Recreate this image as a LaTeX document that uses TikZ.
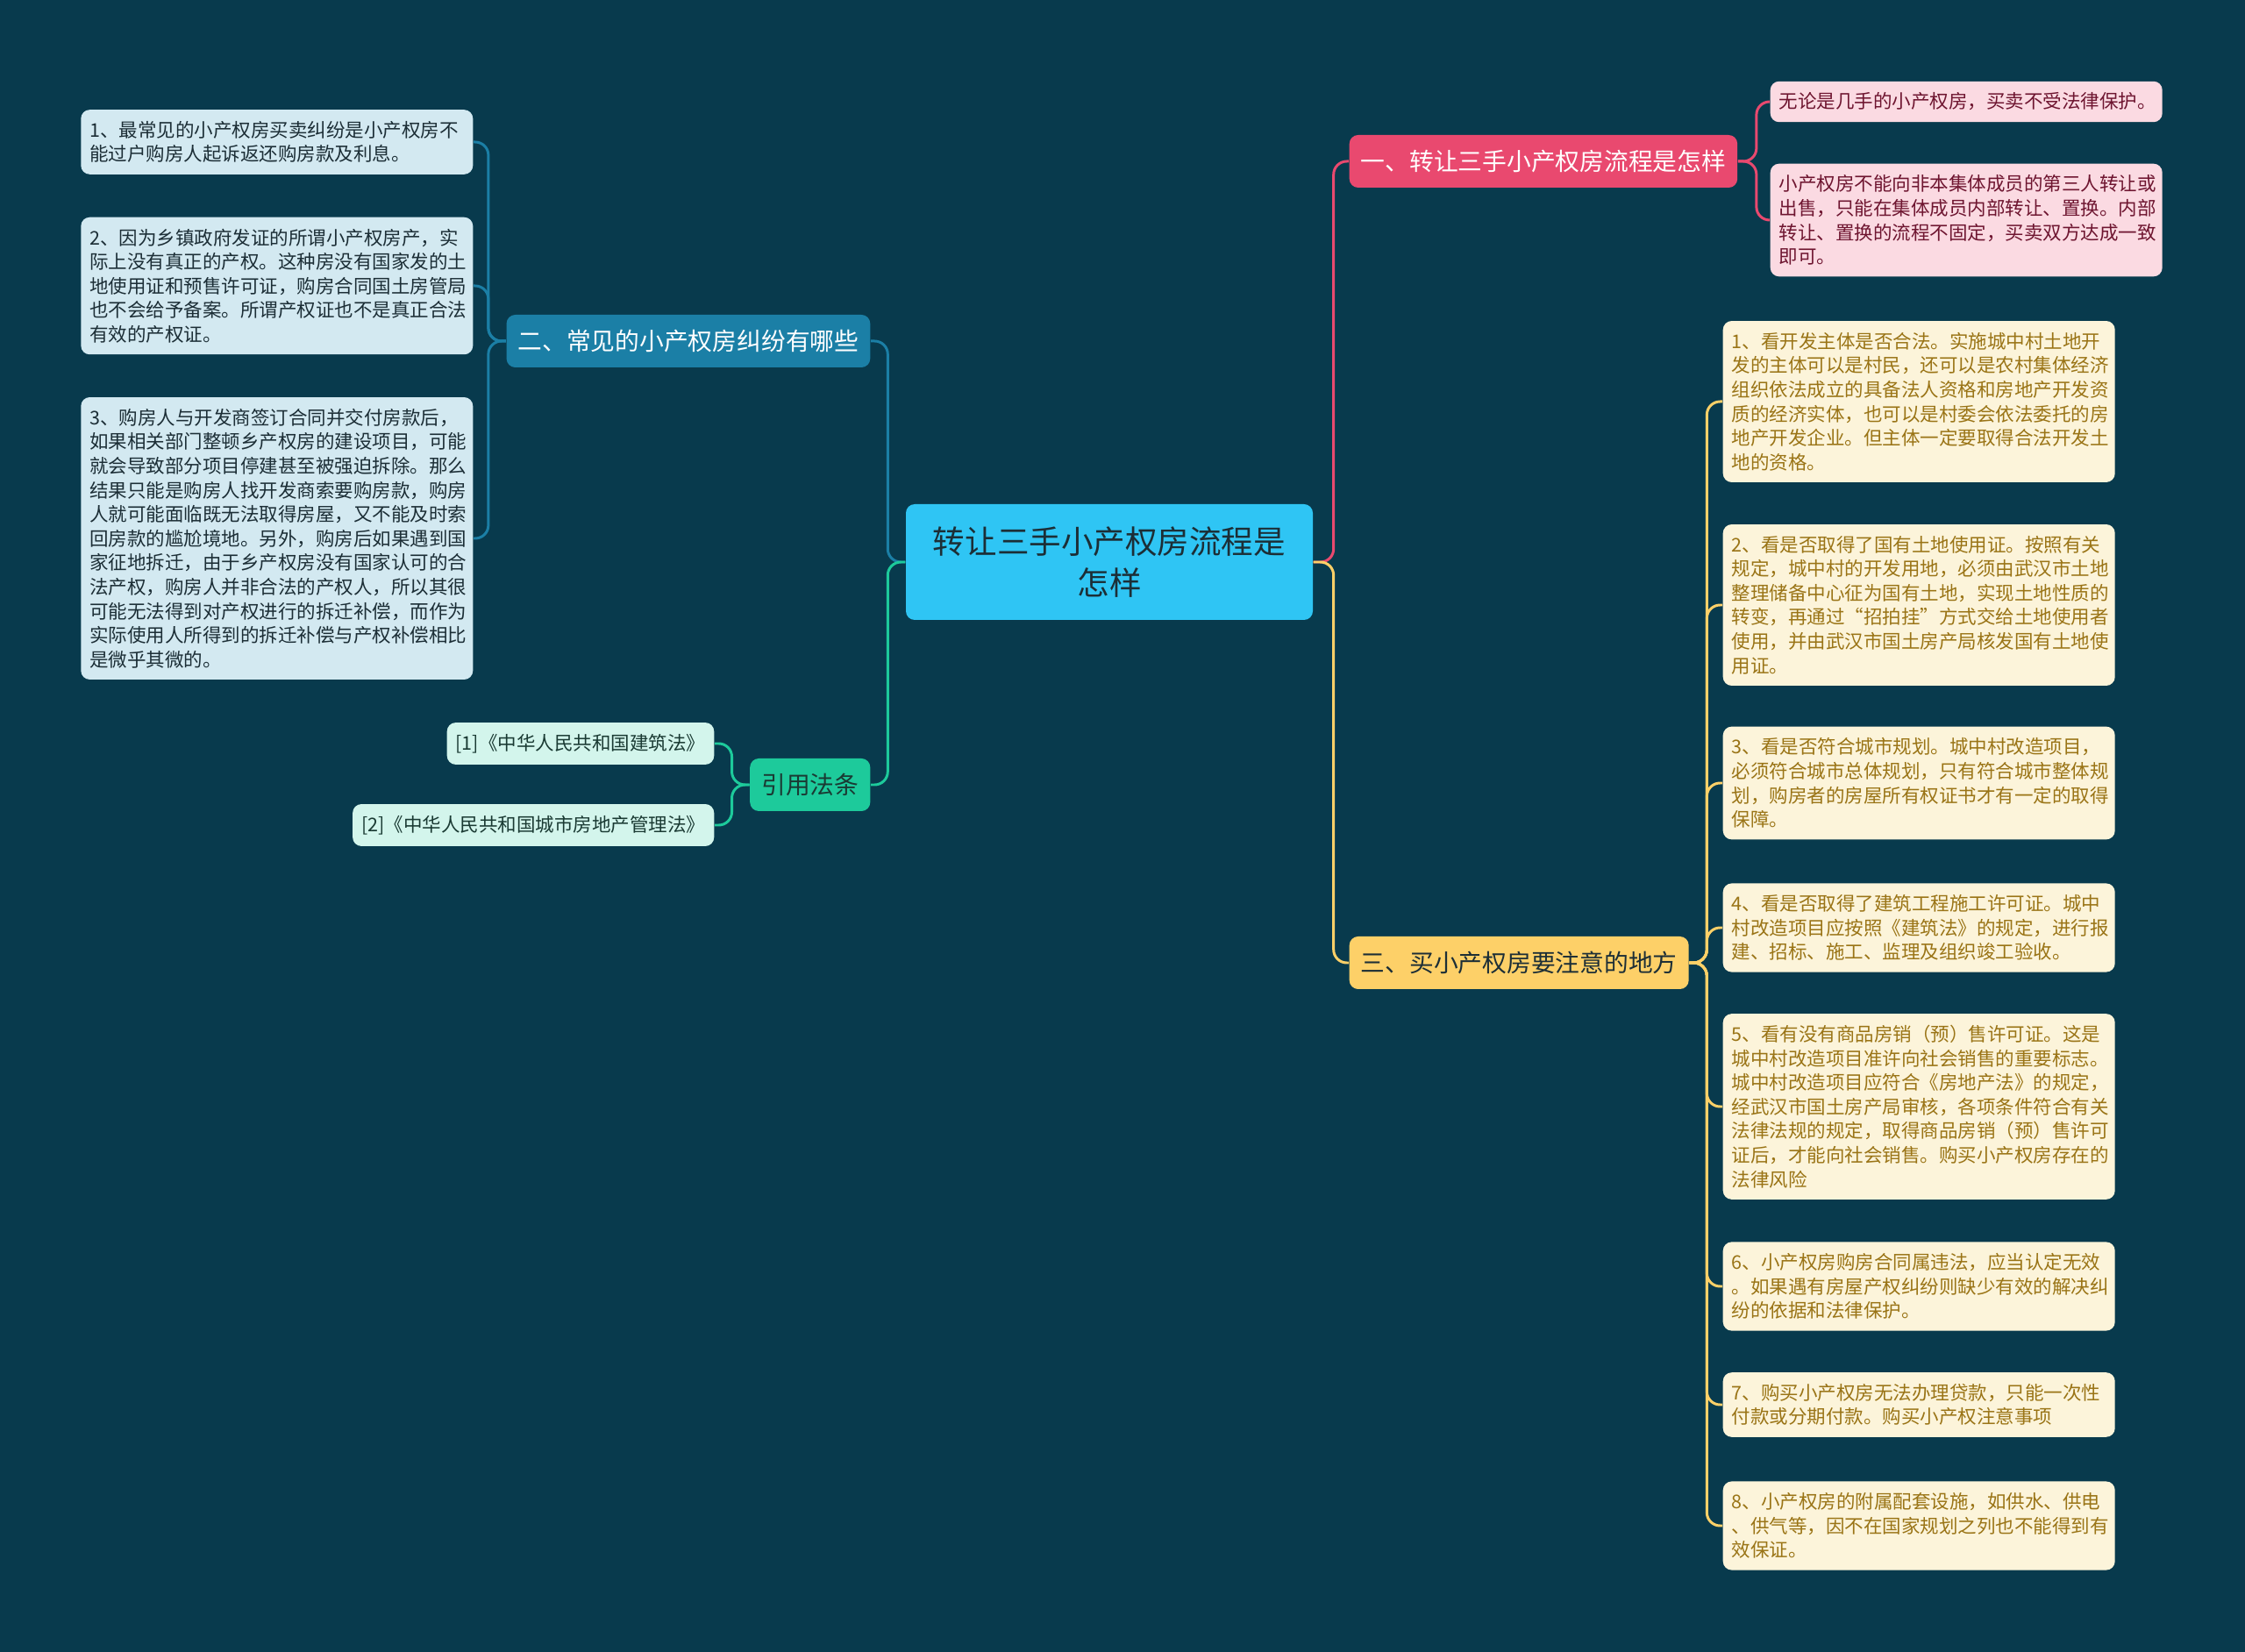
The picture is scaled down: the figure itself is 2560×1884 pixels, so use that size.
\documentclass[tikz,border=0pt]{standalone}
\usepackage{fontspec}
\setmainfont{Noto Sans CJK SC}
\usetikzlibrary{positioning}
\definecolor{bg}{HTML}{083A4D}
\definecolor{topicc}{HTML}{2FC5F4}
\definecolor{pinkc}{HTML}{E9496F}
\definecolor{bluec}{HTML}{1B7FA6}
\definecolor{greenc}{HTML}{1DCA9B}
\definecolor{yelc}{HTML}{FDD068}
\definecolor{pinkl}{HTML}{FBDAE2}
\definecolor{bluel}{HTML}{D3E9F1}
\definecolor{greenl}{HTML}{D3F5EC}
\definecolor{yell}{HTML}{FCF4DA}
\definecolor{pinkt}{HTML}{6E1530}
\definecolor{bluet}{HTML}{1C2E36}
\definecolor{greent}{HTML}{1A3A33}
\definecolor{yelt}{HTML}{9A7416}
\newcommand\smallcn{\fontsize{6.12pt}{7.85pt}\selectfont}
\newcommand\branchcn{\fontsize{7.9pt}{10pt}\selectfont}
\newcommand\topiccn{\fontsize{10.4pt}{13.4pt}\selectfont}

\begin{document}
\begin{tikzpicture}[x=0.1mm,y=-0.1mm,
  box/.style={rounded corners=1mm,inner xsep=1mm,inner ysep=1.3mm,font=\smallcn,align=left},
  leaf/.style={box,text width=42.7mm},
  br/.style={rounded corners=1mm,inner xsep=1.3mm,minimum height=6mm,font=\branchcn},
  ln/.style={line width=0.85pt,rounded corners=1.5mm}]
\fill[bg] (0,0) rectangle (2560,1884);
\useasboundingbox (0,0) rectangle (2560,1884);
% topic and branches
\node[fill=topicc,rounded corners=1mm,minimum width=46.4mm,minimum height=13.2mm,align=center,font=\topiccn,text=bluet] (c) at (1265,641) {转让三手小产权房流程是\\怎样};
\node[br,fill=pinkc,text=white,anchor=west] (b1) at (1538,184) {一、转让三手小产权房流程是怎样};
\node[br,fill=bluec,text=white,anchor=east] (b2) at (993,389) {二、常见的小产权房纠纷有哪些};
\node[br,fill=greenc,text=greent,anchor=east] (b3) at (993,895) {引用法条};
\node[br,fill=yelc,text=bluet,anchor=west] (b4) at (1538,1098) {三、买小产权房要注意的地方};
% pink leaves
\node[leaf,fill=pinkl,text=pinkt,anchor=west] (p1) at (2018,116) {无论是几手的小产权房，买卖不受法律保护。};
\node[leaf,fill=pinkl,text=pinkt,anchor=west] (p2) at (2018,251) {小产权房不能向非本集体成员的第三人转让或\\出售，只能在集体成员内部转让、置换。内部\\转让、置换的流程不固定，买卖双方达成一致\\即可。};
% blue leaves
\node[leaf,fill=bluel,text=bluet,anchor=east] (l1) at (540,162) {1、最常见的小产权房买卖纠纷是小产权房不\\能过户购房人起诉返还购房款及利息。};
\node[leaf,fill=bluel,text=bluet,anchor=east] (l2) at (540,326) {2、因为乡镇政府发证的所谓小产权房产，实\\际上没有真正的产权。这种房没有国家发的土\\地使用证和预售许可证，购房合同国土房管局\\也不会给予备案。所谓产权证也不是真正合法\\有效的产权证。};
\node[leaf,fill=bluel,text=bluet,anchor=east] (l3) at (540,614) {3、购房人与开发商签订合同并交付房款后，\\如果相关部门整顿乡产权房的建设项目，可能\\就会导致部分项目停建甚至被强迫拆除。那么\\结果只能是购房人找开发商索要购房款，购房\\人就可能面临既无法取得房屋，又不能及时索\\回房款的尴尬境地。另外，购房后如果遇到国\\家征地拆迁，由于乡产权房没有国家认可的合\\法产权，购房人并非合法的产权人，所以其很\\可能无法得到对产权进行的拆迁补偿，而作为\\实际使用人所得到的拆迁补偿与产权补偿相比\\是微乎其微的。};
% references
\node[box,fill=greenl,text=greent,anchor=east] (r1) at (815,848) {[1]《中华人民共和国建筑法》};
\node[box,fill=greenl,text=greent,anchor=east] (r2) at (815,941) {[2]《中华人民共和国城市房地产管理法》};
% yellow leaves
\node[leaf,fill=yell,text=yelt,anchor=west] (y1) at (1964,458) {1、看开发主体是否合法。实施城中村土地开\\发的主体可以是村民，还可以是农村集体经济\\组织依法成立的具备法人资格和房地产开发资\\质的经济实体，也可以是村委会依法委托的房\\地产开发企业。但主体一定要取得合法开发土\\地的资格。};
\node[leaf,fill=yell,text=yelt,anchor=west] (y2) at (1964,690) {2、看是否取得了国有土地使用证。按照有关\\规定，城中村的开发用地，必须由武汉市土地\\整理储备中心征为国有土地，实现土地性质的\\转变，再通过“招拍挂”方式交给土地使用者\\使用，并由武汉市国土房产局核发国有土地使\\用证。};
\node[leaf,fill=yell,text=yelt,anchor=west] (y3) at (1964,893) {3、看是否符合城市规划。城中村改造项目，\\必须符合城市总体规划，只有符合城市整体规\\划，购房者的房屋所有权证书才有一定的取得\\保障。};
\node[leaf,fill=yell,text=yelt,anchor=west] (y4) at (1964,1058) {4、看是否取得了建筑工程施工许可证。城中\\村改造项目应按照《建筑法》的规定，进行报\\建、招标、施工、监理及组织竣工验收。};
\node[leaf,fill=yell,text=yelt,anchor=west] (y5) at (1964,1262) {5、看有没有商品房销（预）售许可证。这是\\城中村改造项目准许向社会销售的重要标志。\\城中村改造项目应符合《房地产法》的规定，\\经武汉市国土房产局审核，各项条件符合有关\\法律法规的规定，取得商品房销（预）售许可\\证后，才能向社会销售。购买小产权房存在的\\法律风险};
\node[leaf,fill=yell,text=yelt,anchor=west] (y6) at (1964,1467) {6、小产权房购房合同属违法，应当认定无效\\。如果遇有房屋产权纠纷则缺少有效的解决纠\\纷的依据和法律保护。};
\node[leaf,fill=yell,text=yelt,anchor=west] (y7) at (1964,1602) {7、购买小产权房无法办理贷款，只能一次性\\付款或分期付款。购买小产权注意事项};
\node[leaf,fill=yell,text=yelt,anchor=west] (y8) at (1964,1740) {8、小产权房的附属配套设施，如供水、供电\\、供气等，因不在国家规划之列也不能得到有\\效保证。};
% connectors
\draw[ln,pinkc] (c.east) -- ++(23,0) |- (b1.west);
\draw[ln,yelc] (c.east) -- ++(23,0) |- (b4.west);
\draw[ln,bluec] (c.west) -- ++(-20,0) |- (b2.east);
\draw[ln,greenc] (c.west) -- ++(-20,0) |- (b3.east);
\foreach \n in {p1,p2} \draw[ln,pinkc] (b1.east) -- ++(21,0) |- (\n.west);
\foreach \n in {l1,l2,l3} \draw[ln,bluec] (b2.west) -- ++(-20,0) |- (\n.east);
\foreach \n in {r1,r2} \draw[ln,greenc] (b3.west) -- ++(-20,0) |- (\n.east);
\foreach \i in {1,...,8} \draw[ln,yelc] (b4.east) -- ++(20,0) |- (y\i.west);
\end{tikzpicture}
\end{document}
